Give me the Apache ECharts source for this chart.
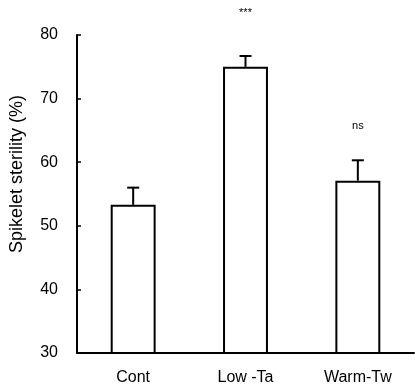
<!DOCTYPE html>
<html><head><meta charset="utf-8">
<script src="https://cdn.jsdelivr.net/npm/echarts@6/dist/echarts.min.js"></script>
<style>html,body{margin:0;padding:0;background:#fff}#c{width:415px;height:392px}</style>
</head><body><div id="c"></div>
<script>
const categories = ['Cont', 'Low -Ta', 'Warm-Tw'];
const means = [53.3, 75.0, 57.1];
const errors = [2.7, 1.7, 3.2];
const sigLabels = ['', '***', 'ns'];
const sigLevels = [null, 83.5, 65.7];
const yTicks = [30, 40, 50, 60, 70, 80];

const chart = echarts.init(document.getElementById('c'), null, {renderer: 'canvas'});
const font = '"Liberation Sans", Arial, sans-serif';
chart.setOption({
  animation: false,
  grid: {left: 76, right: 1, top: 35, bottom: 39},
  xAxis: {
    type: 'category', data: categories, boundaryGap: true,
    axisLine: {lineStyle: {color: '#000', width: 2}},
    axisTick: {inside: true, length: 5, alignWithLabel: false, lineStyle: {color: '#000', width: 1.5}},
    axisLabel: {color: '#000', fontSize: 16, fontFamily: font, margin: 17}
  },
  yAxis: {
    type: 'value', min: yTicks[0], max: yTicks[yTicks.length - 1], interval: 10,
    name: 'Spikelet sterility (%)', nameLocation: 'middle', nameGap: 51,
    nameTextStyle: {color: '#000', fontSize: 18, fontFamily: font, padding: [0, 0, 0, 40]},
    axisLine: {show: true, lineStyle: {color: '#000', width: 2}},
    axisTick: {show: true, inside: true, length: 4, lineStyle: {color: '#000', width: 1.5}},
    axisLabel: {color: '#000', fontSize: 16, fontFamily: font, margin: 19},
    splitLine: {show: false}
  },
  series: [
    {
      type: 'bar', data: means, barWidth: '40%',
      itemStyle: {color: '#fff', borderColor: '#000', borderWidth: 2}
    },
    {
      type: 'custom',
      data: means.map((m, i) => [i, m, m + errors[i]]),
      renderItem: function (params, api) {
        const base = api.coord([api.value(0), api.value(1)]);
        const top = api.coord([api.value(0), api.value(2)]);
        const hw = 6;
        return {
          type: 'group',
          children: [
            {type: 'line', shape: {x1: base[0], y1: base[1], x2: top[0], y2: top[1]}, style: {stroke: '#000', lineWidth: 2}},
            {type: 'line', shape: {x1: top[0] - hw, y1: top[1], x2: top[0] + hw, y2: top[1]}, style: {stroke: '#000', lineWidth: 2}}
          ]
        };
      },
      z: 5
    },
    {
      type: 'custom', clip: false,
      data: sigLevels.map((v, i) => [i, v === null ? 0 : v, sigLabels[i]]),
      renderItem: function (params, api) {
        const txt = sigLabels[params.dataIndex];
        if (!txt) return null;
        const p = api.coord([api.value(0), api.value(1)]);
        return {
          type: 'text',
          style: {x: p[0], y: p[1], text: txt, fill: '#000', font: '11px ' + font, align: 'center', verticalAlign: 'middle'}
        };
      },
      z: 6
    }
  ]
});
</script></body></html>
